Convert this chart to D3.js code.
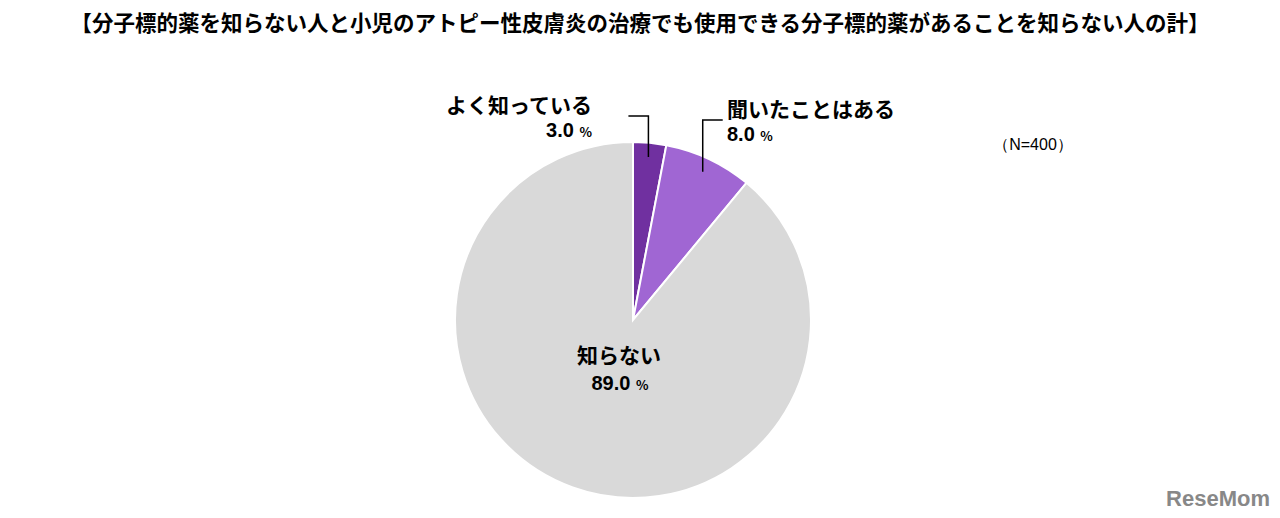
<!DOCTYPE html>
<html><head><meta charset="utf-8">
<script src="https://cdn.jsdelivr.net/npm/d3@7"></script>
<style>body{margin:0;background:#fff;font-family:"Noto Sans CJK JP",sans-serif}</style>
</head><body><div id="chart"></div>
<script>
const labels = ['よく知っている', '聞いたことはある', '知らない'];
const values = [3.0, 8.0, 89.0];
const colors = ['#7030a0', '#a066d3', '#d9d9d9'];

const width = 1280, height = 518, cx = 633, cy = 320, r = 178;
const svg = d3.select('#chart').append('svg').attr('width', width).attr('height', height);

svg.append('text').attr('x', 640).attr('y', 31).attr('text-anchor', 'middle')
  .attr('font-size', 21.5).attr('font-weight', 'bold')
  .text('【分子標的薬を知らない人と小児のアトピー性皮膚炎の治療でも使用できる分子標的薬があることを知らない人の計】');

svg.append('text').attr('x', 1033).attr('y', 150).attr('text-anchor', 'middle')
  .attr('font-size', 16).attr('font-family', 'Liberation Sans, sans-serif').text('（N=400）');

const pie = d3.pie().sort(null).value(d => d)(values);
const arc = d3.arc().innerRadius(0).outerRadius(r);
const g = svg.append('g').attr('transform', `translate(${cx},${cy})`);
g.selectAll('path').data(pie).enter().append('path')
  .attr('d', arc).attr('fill', (d, i) => colors[i])
  .attr('stroke', '#fff').attr('stroke-width', 2);

// leader lines for small slices
const inner = d3.arc().innerRadius(r * 0.92).outerRadius(r * 0.92);
const leaders = [{dx: -20, top: -204, anchor: 'end', tx: -41}, {dx: 20, top: -200, anchor: 'start', tx: 94}];
leaders.forEach((L, i) => {
  const [x, y] = inner.centroid(pie[i]);
  g.append('path').attr('d', `M${x},${y}V${L.top}H${x + L.dx}`)
    .attr('fill', 'none').attr('stroke', '#000').attr('stroke-width', 1.5);
  const t = g.append('text').attr('text-anchor', L.anchor).attr('font-weight', 'bold').attr('font-size', 21);
  t.append('tspan').attr('x', L.tx).attr('y', i === 0 ? -207 : -203).text(labels[i]);
  t.append('tspan').attr('x', L.tx).attr('y', i === 0 ? -183 : -179)
    .attr('font-family', 'Liberation Sans, sans-serif').attr('font-size', 20).text(values[i].toFixed(1) + ' ');
  t.append('tspan').attr('font-size', 13).text('%');
});

const big = g.append('text').attr('text-anchor', 'middle').attr('font-weight', 'bold').attr('font-size', 21);
big.append('tspan').attr('x', -14).attr('y', 43).text(labels[2]);
big.append('tspan').attr('x', -13).attr('y', 70).attr('font-family', 'Liberation Sans, sans-serif').attr('font-size', 20).text(values[2].toFixed(1) + ' ');
big.append('tspan').attr('font-size', 13).text('%');

svg.append('text').attr('x', 1270).attr('y', 506).attr('text-anchor', 'end')
  .attr('font-size', 22).attr('font-weight', 'bold').attr('fill', '#888')
  .attr('font-family', 'Liberation Sans, sans-serif').text('ReseMom');
</script></body></html>
